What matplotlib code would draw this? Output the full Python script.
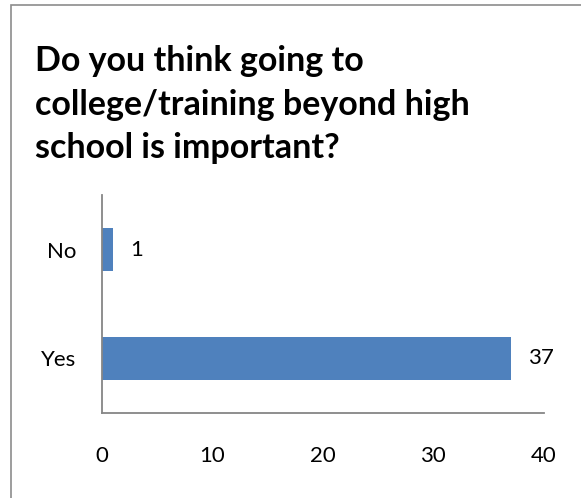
import matplotlib
matplotlib.use("Agg")
import matplotlib.pyplot as plt
from matplotlib.patches import Rectangle

# survey answers (bottom to top)
answers = ["Yes", "No"]
counts = [37, 1]
x_ticks = [0, 10, 20, 30, 40]

title = "Do you think going to\ncollege/training beyond high\nschool is important?"

BAR_BLUE = "#4F81BD"
AXIS_GREY = "#868686"

plt.rcParams["font.family"] = ["Lato", "DejaVu Sans"]

W, H = 581, 498
fig = plt.figure(figsize=(W / 100, H / 100), dpi=100)
fig.patch.set_facecolor("white")

# chart-area frame (right and bottom edges fall outside the canvas)
fig.patches.append(Rectangle((10.5 / W, -20 / H), 600 / W, 513 / H,
                             transform=fig.transFigure, fill=False,
                             edgecolor="#8c8c8c", lw=1.2))

fig.text(35 / W, 1 - 45 / H, title, ha="left", va="top",
         fontsize=24.5, fontweight="bold", color="black", linespacing=1.45)

ax = fig.add_axes([101.5 / W, 85 / H, 442.5 / W, 218 / H])
y = range(len(answers))
bars = ax.barh(y, counts, height=0.4, color=BAR_BLUE, zorder=2)

for rect, v in zip(bars, counts):
    ax.annotate(str(v), (rect.get_width(), rect.get_y() + rect.get_height() / 2),
                xytext=(12.5, 0), textcoords="offset points",
                ha="left", va="center", fontsize=16, color="black")

ax.set_xlim(0, 40)
ax.set_ylim(-0.5, 1.5)
ax.set_xticks(x_ticks)
ax.set_yticks(list(y))
ax.set_yticklabels(answers)

for side in ("top", "right"):
    ax.spines[side].set_visible(False)
for side in ("left", "bottom"):
    ax.spines[side].set_color(AXIS_GREY)
    ax.spines[side].set_linewidth(1.3)

ax.tick_params(axis="x", length=0, pad=24, labelsize=16, labelcolor="black")
ax.tick_params(axis="y", length=0, pad=18, labelsize=16, labelcolor="black")
ax.set_facecolor("none")

fig.savefig("out.png", dpi=100)
